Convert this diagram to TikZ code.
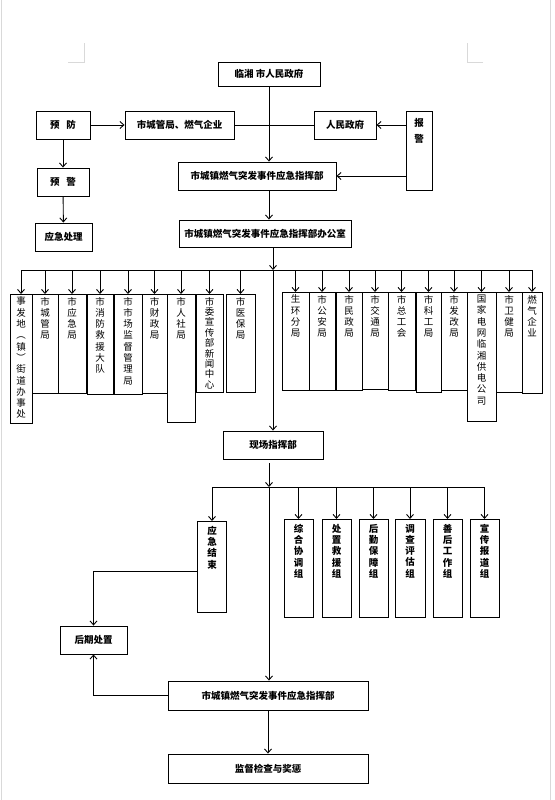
\documentclass[tikz,border=0pt]{standalone}
\usepackage{fontspec}
\usetikzlibrary{positioning,arrows.meta}
\newfontfamily\cjk{Noto Sans CJK SC}
% vertical text in a fixed box: [inset]{width}{height}{text}
\newcommand{\vstack}[4][3]{\parbox[t][#3pt][t]{#2pt}{\centering\vspace*{#1pt}#4}}

\begin{document}
\begin{tikzpicture}[x=1pt,y=-1pt,line width=0.9pt,
  box/.style={draw,inner sep=0pt,minimum height=28pt,font=\cjk\bfseries\fontsize{9.5}{11}\selectfont},
  col/.style={draw,inner sep=0pt,outer sep=0pt,anchor=north west,font=\cjk\fontsize{9.5}{11.3}\selectfont},
  grp/.style={col,font=\cjk\bfseries\fontsize{9.5}{11.3}\selectfont},
  arr/.style={-{Straight Barb[length=4pt,width=7pt]}},
  page/.style={draw=black!15,line width=0.8pt}]

\useasboundingbox (0,0) rectangle (554,800);
% page edges and corner marks
\draw[page] (1.5,0) -- (1.5,800) (550.5,0) -- (550.5,800);
\draw[page] (68,62) -- (84,62) -- (84,43) (483,62) -- (467,62) -- (467,43);

% top part
\node[box,minimum width=102pt,minimum height=24pt] (gov) at (269,74) {临湘 市人民政府};
\node[box,minimum width=54pt] (prev) at (63,125) {预\hspace{7pt}防};
\node[box,minimum width=109pt] (cg) at (179.5,125) {市城管局、燃气企业};
\node[box,minimum width=62pt] (rm) at (345,125) {人民政府};
\node[grp] (alarm) at (406,111) {\vstack[7]{26}{79}{报\\[5pt]警}};
\node[box,minimum width=52pt] (warn) at (63,182) {预\hspace{7pt}警};
\node[box,minimum width=57pt] (handle) at (63.5,237) {应急处理};
\node[box,minimum width=158pt] (hq1) at (257,176) {市城镇燃气突发事件应急指挥部};
\node[box,minimum width=172pt,minimum height=27pt] (office) at (265,233.5) {市城镇燃气突发事件应急指挥部办公室};

% member units
\foreach \x/\w/\h/\t [count=\i] in {
  10/22/129/事\\发\\地\\︵\\镇\\︶\\街\\道\\办\\事\\处, 32/26/99/市\\城\\管\\局,
  58/28/99/市\\应\\急\\局, 87/26/100/市\\消\\防\\救\\援\\大\\队,
  114/28/100/市\\市\\场\\监\\督\\管\\理\\局, 142/25/99/市\\财\\政\\局,
  167/28/128/市\\人\\社\\局, 196/27/98/\fontsize{9.5}{10.4}\selectfont 市\\委\\宣\\传\\部\\新\\闻\\中\\心,
  226/29/98/市\\医\\保\\局}
  {\node[col] (a\i) at (\x,294) {\vstack{\w}{\h}{\t}};}
\foreach \x/\w/\h/\t [count=\i] in {
  282/27/98/生\\环\\分\\局, 309/26/98/市\\公\\安\\局, 336/26/98/市\\民\\政\\局,
  362/26/97/市\\交\\通\\局, 388/27/98/市\\总\\工\\会, 416/25/100/市\\科\\工\\局,
  441/26/98/市\\发\\改\\局, 467/29/129/国\\家\\电\\网\\临\\湘\\供\\电\\公\\司,
  496/26/100/市\\卫\\健\\局, 522/20/101/燃\\气\\企\\业}
  {\node[col] (b\i) at (\x,292) {\vstack{\w}{\h}{\t}};}

% on-site command
\node[box,minimum width=100pt] (site) at (273,445) {现场指挥部};
\node[grp] (end) at (197.5,521) {\vstack[5]{29}{91}{应\\急\\结\\束}};
\foreach \x/\w/\t [count=\i] in {
  284/29/综\\合\\协\\调\\组, 322/29/处\\置\\救\\援\\组, 359/29/后\\勤\\保\\障\\组,
  395/30/调\\查\\评\\估\\组, 433/29/善\\后\\工\\作\\组, 470/29/宣\\传\\报\\道\\组}
  {\node[grp] (g\i) at (\x,519) {\vstack[5]{\w}{98}{\t}};}
\node[box,minimum width=67pt] (post) at (93.5,640) {后期处置};
\node[box,minimum width=200pt,minimum height=29pt] (hq2) at (268,695.5) {市城镇燃气突发事件应急指挥部};
\node[box,minimum width=200pt,minimum height=29pt] (sup) at (268,768.5) {监督检查与奖惩};

% connectors
\draw[arr] (gov.south) -- (gov.south |- hq1.north);
\draw (cg) -- (rm);
\draw[arr] (prev) -- (cg);
\draw[arr] (alarm.west |- rm) -- (rm);
\draw[arr] (alarm.west |- hq1) -- (hq1);
\draw[arr] (prev) -- (warn);
\draw[arr] (warn) -- (handle);
\draw[arr] (gov.south |- hq1.south) -- (gov.south |- office.north);

\coordinate (bus1) at (273,270);
\draw[arr] (bus1 |- office.south) -- (bus1);
\draw[arr] (bus1) -- (bus1 |- site.north);
\draw (a1.north |- bus1) -- (b10.north |- bus1);
\foreach \i in {1,...,9} \draw[arr] (a\i.north |- bus1) -- (a\i.north);
\foreach \i in {1,...,10} \draw[arr] (b\i.north |- bus1) -- (b\i.north);

\coordinate (bus2) at (269,487);
\draw[arr,shorten <=4pt] (bus2 |- site.south) -- (bus2);
\draw[arr] (bus2) -- (bus2 |- hq2.north);
\draw (end.north |- bus2) -- (g6.north |- bus2);
\draw[arr] (end.north |- bus2) -- (end.north);
\foreach \i in {1,...,6} \draw[arr] (g\i.north |- bus2) -- (g\i.north);
\draw[arr] ([yshift=-5pt]end.west) -| (post.north);
\draw[arr] (hq2.west) -| (post.south);
\draw[arr] (hq2) -- (sup);
\end{tikzpicture}
\end{document}
